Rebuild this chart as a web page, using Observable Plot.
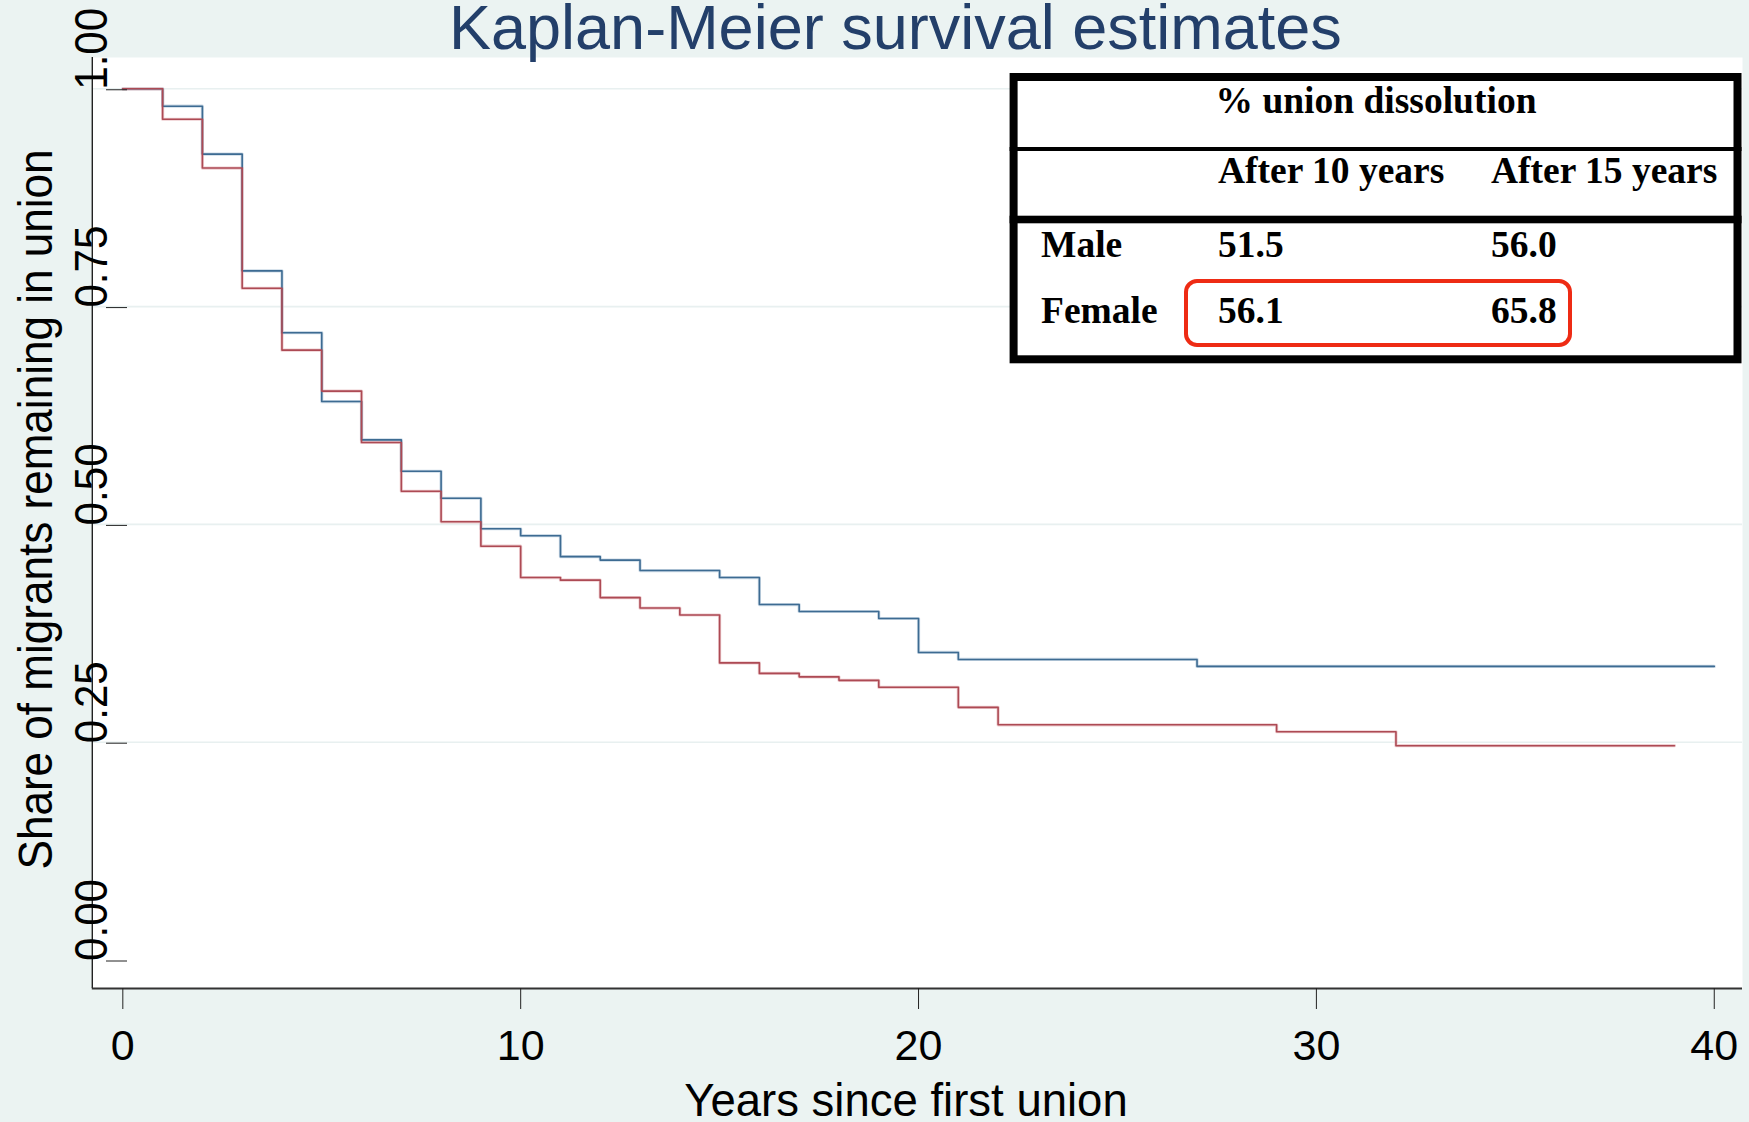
<!DOCTYPE html>
<html><head><meta charset="utf-8">
<script src="https://cdn.jsdelivr.net/npm/d3@7"></script>
<script src="https://cdn.jsdelivr.net/npm/@observablehq/plot@0.6"></script>
<style>
html,body{margin:0;padding:0;background:#ebf3f2;}
#chart{width:1749px;height:1122px;overflow:hidden;}
</style></head><body><div id="chart"></div>
<script>
// ---- data ----
const maleTimes = [0,1,2,3,4,5,6,7,8,9,10,11,12,13,15,16,17,19,20,21,27,40];
const maleSurv  = [1,0.980,0.925,0.791,0.720,0.641,0.597,0.561,0.530,0.495,0.487,0.463,0.459,0.447,0.439,0.408,0.400,0.392,0.353,0.345,0.337,0.337];
const femaleTimes = [0,1,2,3,4,5,6,7,8,9,10,11,12,13,14,15,16,17,18,19,21,22,29,32,39];
const femaleSurv  = [1,0.965,0.909,0.771,0.700,0.653,0.594,0.538,0.503,0.475,0.439,0.436,0.416,0.404,0.396,0.341,0.329,0.325,0.321,0.313,0.290,0.270,0.262,0.246,0.246];
const xTicks = [0,10,20,30,40];
const yTicks = [0,0.25,0.5,0.75,1];
const gridTicks = [0.25,0.5,0.75,1];
const titleText = "Kaplan-Meier survival estimates";
const xTitle = "Years since first union";
const yTitle = "Share of migrants remaining in union";
// inset table
const tableTitle = "% union dissolution";
const tableCols = ["After 10 years","After 15 years"];
const tableRows = ["Male","Female"];
const after10 = [51.5, 56.1];
const after15 = [56.0, 65.8];

const male = maleTimes.map((t,i)=>({t, s: maleSurv[i]}));
const female = femaleTimes.map((t,i)=>({t, s: femaleSurv[i]}));

const W=1749, H=1122;
const mL=91.8, mR=7, mT=57, mB=134;
const xDomain=[-0.767,40.71], yDomain=[-0.0327,1.0359];
const sans = "'Liberation Sans',Arial,sans-serif";
const serif = "'Liberation Serif','Times New Roman',serif";
const blue = "#3d6b92", blueHalo = "#aac2d5";
const red = "#ad4a54", redHalo = "#e2aeb2";

const plot = Plot.plot({
  width: W, height: H,
  marginLeft: mL, marginRight: mR, marginTop: mT, marginBottom: mB,
  style: {background: "transparent", color: "#000", fontFamily: sans, overflow: "visible"},
  x: {domain: xDomain},
  y: {domain: yDomain},
  marks: [
    Plot.frame({fill: "white", stroke: null}),
    Plot.ruleY(gridTicks, {stroke: "#e8f0f0", strokeWidth: 1.6}),
    Plot.line(male, {x: "t", y: "s", curve: "step-after", stroke: blueHalo, strokeWidth: 3.2, strokeOpacity: 0.6}),
    Plot.line(female, {x: "t", y: "s", curve: "step-after", stroke: redHalo, strokeWidth: 3.2, strokeOpacity: 0.6}),
    Plot.line(male, {x: "t", y: "s", curve: "step-after", stroke: blue, strokeWidth: 1.6}),
    Plot.line(female, {x: "t", y: "s", curve: "step-after", stroke: red, strokeWidth: 1.6}),
    Plot.ruleX([xDomain[0]], {stroke: "#222", strokeWidth: 1.4}),
    Plot.ruleY([yDomain[0]], {stroke: "#333", strokeWidth: 1.8}),
    Plot.axisX({ticks: xTicks, tickSize: 21, tickPadding: 20, fontSize: 43, label: null, fontFamily: sans, stroke: "#222"}),
    Plot.axisY({ticks: yTicks, tickSize: 21, tickPadding: 0, tickFormat: d3.format(".2f"),
      tickRotate: -90, textAnchor: "start", lineAnchor: "bottom", dx: 35.2, dy: 1,
      fontSize: 46, label: null, fontFamily: sans, stroke: "#222"}),
    Plot.text([titleText], {frameAnchor: "top", dx: -22, dy: -9, lineAnchor: "bottom", fontSize: 63, fill: "#233f6a", fontFamily: sans}),
    Plot.text([xTitle], {frameAnchor: "bottom", dx: -11.4, dy: 127, lineAnchor: "bottom", fontSize: 45.5, fill: "#000", fontFamily: sans}),
    Plot.text([yTitle], {frameAnchor: "left", rotate: -90, textAnchor: "middle", lineAnchor: "bottom", dx: -40.8, dy: -13.5, fontSize: 49, fill: "#000", fontFamily: sans})
  ]
});
document.getElementById("chart").appendChild(plot);

const svg = d3.select(plot);
// condensed vertical texts (as in the reference)
svg.selectAll('g[aria-label="y-axis tick label"] text')
  .attr("textLength", 82).attr("lengthAdjust", "spacingAndGlyphs");
svg.selectAll("text").filter(function(){ return this.textContent === yTitle; })
  .attr("textLength", 720).attr("lengthAdjust", "spacingAndGlyphs");

// ---- inset table (annotation) ----
const g = svg.append("g").attr("class", "inset-table");
const T = {x0: 1009.6, x1: 1741.5, y0: 73, y1: 363.3, bw: 8};
g.append("rect").attr("x", T.x0 + T.bw/2).attr("y", T.y0 + T.bw/2)
  .attr("width", T.x1 - T.x0 - T.bw).attr("height", T.y1 - T.y0 - T.bw)
  .attr("fill", "white").attr("stroke", "#000").attr("stroke-width", T.bw);
g.append("rect").attr("x", T.x0).attr("y", 147).attr("width", T.x1 - T.x0).attr("height", 4).attr("fill", "#000");
g.append("rect").attr("x", T.x0).attr("y", 215.7).attr("width", T.x1 - T.x0).attr("height", 7.6).attr("fill", "#000");
const tStyle = s => s.attr("font-family", serif).attr("font-weight", "bold").attr("font-size", 37.5)
  .attr("fill", "#000").attr("text-anchor", "start").style("text-anchor", "start");
g.append("text").attr("x", 1376).attr("y", 113).text(tableTitle).call(tStyle)
  .attr("text-anchor", "middle").style("text-anchor", "middle");
const colX = [1218, 1491];
tableCols.forEach((c,i)=> g.append("text").attr("x", colX[i]).attr("y", 183).text(c).call(tStyle));
const rowY = [256.7, 322.7];
tableRows.forEach((r,i)=>{
  g.append("text").attr("x", 1041).attr("y", rowY[i]).text(r).call(tStyle);
  g.append("text").attr("x", colX[0]).attr("y", rowY[i]).text(after10[i].toFixed(1)).call(tStyle);
  g.append("text").attr("x", colX[1]).attr("y", rowY[i]).text(after15[i].toFixed(1)).call(tStyle);
});
g.append("rect").attr("x", 1186).attr("y", 281).attr("width", 384).attr("height", 64).attr("rx", 11)
  .attr("fill", "none").attr("stroke", "#ee2b14").attr("stroke-width", 4);
</script>
</body></html>
